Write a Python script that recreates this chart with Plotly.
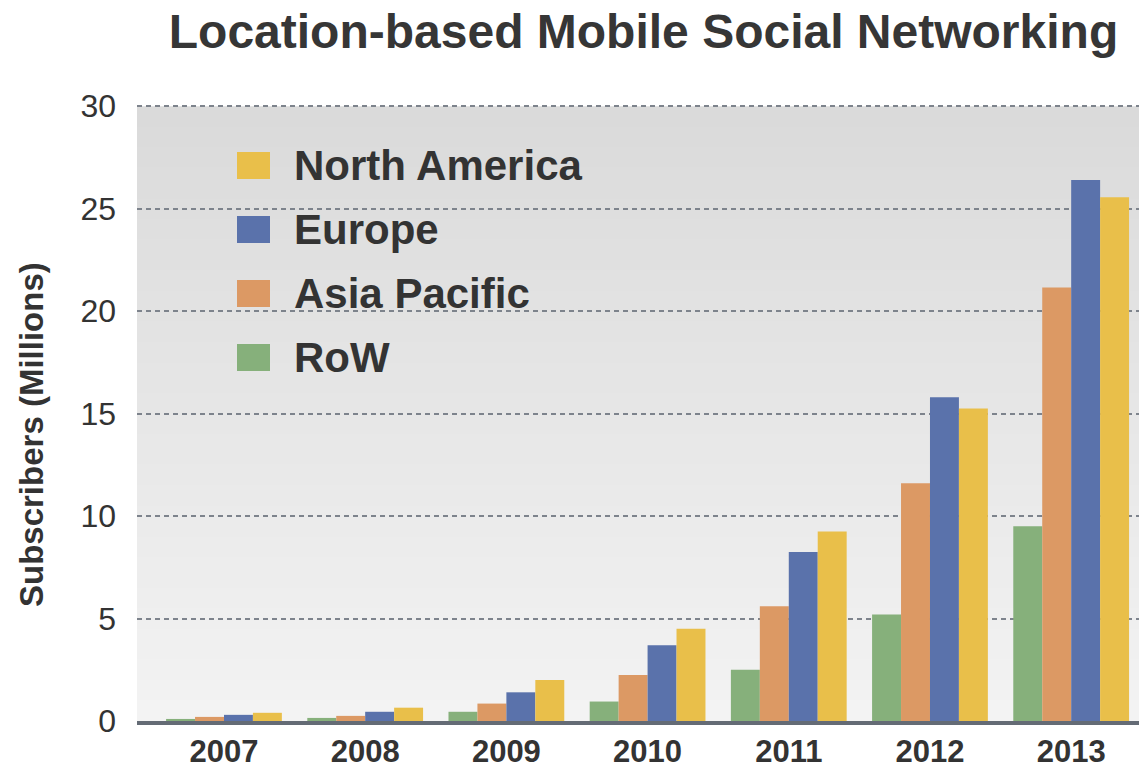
import plotly.graph_objects as go

# data
years = ["2007", "2008", "2009", "2010", "2011", "2012", "2013"]
row = [0.1, 0.15, 0.45, 0.95, 2.5, 5.2, 9.5]
asia_pacific = [0.2, 0.25, 0.85, 2.25, 5.6, 11.6, 21.15]
europe = [0.3, 0.45, 1.4, 3.7, 8.25, 15.8, 26.4]
north_america = [0.4, 0.65, 2.0, 4.5, 9.25, 15.25, 25.55]
y_ticks = [0, 5, 10, 15, 20, 25, 30]

series = [
    ("RoW", row, "#86B07B"),
    ("Asia Pacific", asia_pacific, "#DC9964"),
    ("Europe", europe, "#5A72AB"),
    ("North America", north_america, "#E9BF4A"),
]

FONT = "Liberation Sans, Arial, sans-serif"
OFF = 8  # page body margin
W, H = 1147 - OFF, 770 - OFF
L, R, T, B = 137 - OFF, 0, 100 - OFF, 49
PW, PH = W - L - R, H - T - B
YMAX = 30.3
PANEL_TOP = 30 / YMAX  # grey panel ends at the 30 gridline

fig = go.Figure()
for name, vals, col in series:
    fig.add_trace(go.Bar(
        x=years, y=vals, name=name,
        marker=dict(color=col, line=dict(width=0)),
        showlegend=False,
    ))

# gradient panel background (strips, darker at the top, drawn top-down
# with overlap so no seams show)
shapes = []
n = 60
top, bot = (218, 218, 218), (243, 243, 243)
for i in range(n):
    t = i / (n - 1)
    c = tuple(round(top[k] + (bot[k] - top[k]) * t) for k in range(3))
    shapes.append(dict(
        type="rect", xref="x domain", yref="y domain",
        x0=0, x1=1,
        y0=0, y1=PANEL_TOP * (1 - i / n),
        fillcolor="rgb(%d,%d,%d)" % c, line=dict(width=0), layer="below",
    ))

# custom legend with big swatches (positions in reference pixels)
annotations = []
for i, (name, vals, col) in enumerate(reversed(series)):
    cy = 165.5 + i * 64
    shapes.append(dict(
        type="rect", xref="paper", yref="paper",
        x0=(237 - OFF - L) / PW, x1=(270 - OFF - L) / PW,
        y0=(H - B - (cy - OFF + 13.5)) / PH, y1=(H - B - (cy - OFF - 13.5)) / PH,
        fillcolor=col, line=dict(width=0), layer="above",
    ))
    annotations.append(dict(
        xref="paper", yref="paper", x=(292 - OFF - L) / PW, y=(H - B - (cy - OFF)) / PH,
        xanchor="left", yanchor="middle", showarrow=False,
        text="<b>%s</b>" % name,
        font=dict(family=FONT, size=42, color="#333333"),
    ))

# y axis title placed by hand
annotations.append(dict(
    xref="paper", yref="paper", x=(32 - OFF - L) / PW, y=(H - B - (435 - OFF)) / PH,
    xanchor="center", yanchor="middle", showarrow=False, textangle=-90,
    text="<b>Subscribers (Millions)</b>",
    font=dict(family=FONT, size=33, color="#333333"),
))

fig.update_layout(
    width=W, height=H,
    margin=dict(l=L, r=R, t=T, b=B),
    paper_bgcolor="white",
    plot_bgcolor="white",
    barmode="group", bargap=0.18, bargroupgap=0,
    shapes=shapes, annotations=annotations,
    title=dict(
        text="<b>Location-based Mobile Social Networking</b>",
        xref="container", x=(643.5 - OFF) / W, xanchor="center",
        yref="container", y=1 - (31 - OFF) / H, yanchor="middle",
        font=dict(family=FONT, size=48, color="#363636"),
    ),
)

fig.update_xaxes(
    range=[-0.616, 6.537], automargin=False,
    showgrid=False, showline=True, linewidth=4, linecolor="#646B75",
    tickfont=dict(family=FONT, size=31, color="#333333", weight="bold"),
    ticks="", ticklabelstandoff=0,
)
fig.update_yaxes(
    range=[0, YMAX], tickvals=y_ticks, automargin=False,
    showgrid=True, gridcolor="#7D838C", gridwidth=1.5, griddash="5px,4px",
    zeroline=False, showline=False,
    tickfont=dict(family=FONT, size=32, color="#333333"),
    ticks="", ticklabelstandoff=20,
)

fig.write_html("out.html")
